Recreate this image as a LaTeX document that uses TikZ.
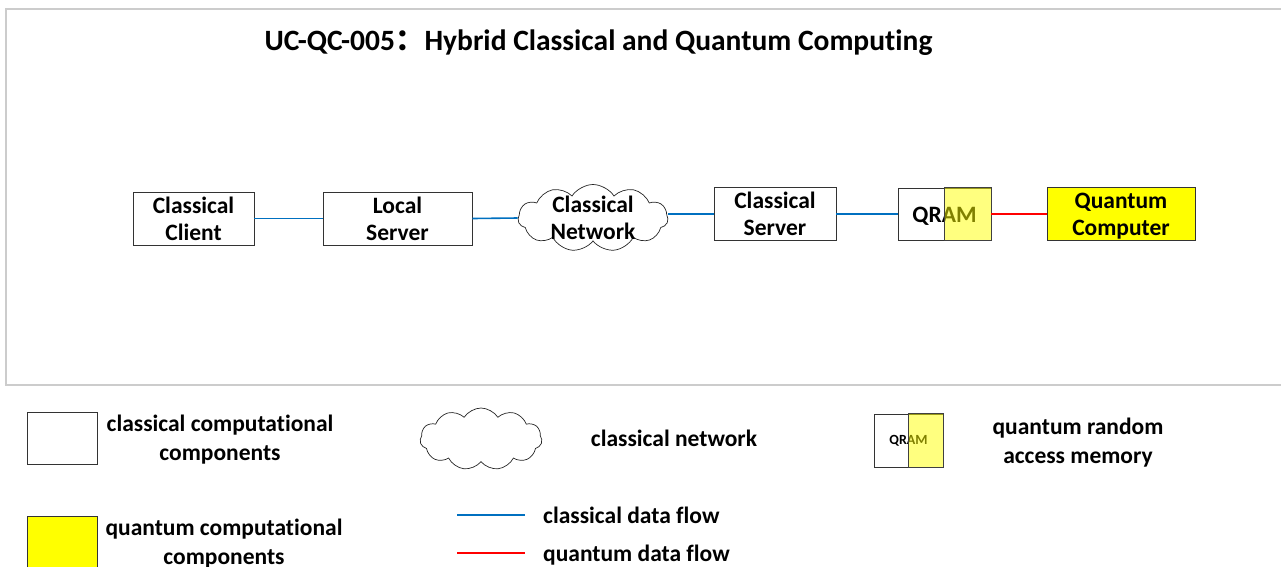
\documentclass[tikz,border=0pt]{standalone}
\usepackage{fontspec}
\setmainfont{Carlito}[Ligatures=NoCommon]
\newfontfamily\cjkfont{Noto Sans CJK SC}
\usetikzlibrary{shapes.symbols}
\definecolor{cblue}{RGB}{0,112,192}
\definecolor{cred}{RGB}{255,0,0}
\definecolor{qyel}{RGB}{255,255,0}
\newcommand\ts{\rule{0pt}{21pt}}
\newcommand\bs{\rule[-5pt]{0pt}{5pt}}
\newcommand\twol[2]{\ts #1\\#2\bs}
\newcommand\onel[1]{\ts #1\bs}
\begin{document}
\begin{tikzpicture}[x=1pt,y=-1pt,
  txt/.style={inner sep=0pt, align=center, font=\bfseries\fontsize{23.5}{27}\selectfont},
  ltxt/.style={inner sep=0pt, align=center, font=\bfseries\fontsize{23.5}{29}\selectfont},
  box/.style={txt, draw=black!80, line width=0.8pt},
  qbox/.style={box, fill=qyel},
  netcloud/.style={cloud, cloud puffs=11, cloud puff arc=115, draw=black!85, line width=0.7pt, inner sep=0pt},
  overlay/.style={fill=qyel, fill opacity=0.5, draw=black!75, line width=0.8pt},
  cflow/.style={cblue, line width=1.6pt},
  qflow/.style={cred, line width=1.6pt}]
\useasboundingbox (0,0) rectangle (1281,566);
\draw[black!20, line width=1.2pt] (6,9) rectangle (1300,385);
% title
\node[inner sep=0pt, font=\bfseries\fontsize{29.5}{32}\selectfont] (title) at (598.5,42.5) {UC-QC-005{\cjkfont ：}Hybrid Classical and Quantum Computing};
% main chain
\node[box, minimum width=121, minimum height=51] (client) at (193.5,218.5) {\twol{Classical}{Client}};
\node[box, minimum width=149, minimum height=51] (local) at (397.5,218.5) {\twol{Local}{Server}};
\node[netcloud, minimum width=150, minimum height=67] (net) at (593,218) {};
\node[txt] (netlabel) at (593,218) {\twol{Classical}{Network}};
\node[box, minimum width=122, minimum height=52] (server) at (775,214) {\twol{Classical}{Server}};
\node[box, minimum width=93, minimum height=52] (qram) at (944.5,214) {\onel{QRAM}};
\draw[overlay] (qram.north) rectangle (qram.south east);
\node[qbox, minimum width=148, minimum height=52] (qc) at (1121,214) {\twol{Quantum}{Computer}};
\draw[cflow] (client.east) -- (local.west);
\draw[cflow] (local.east) -- (net.west);
\draw[cflow] (net.east |- server.west) -- (server.west);
\draw[cflow] (server.east) -- (qram.west);
\draw[qflow] (qram.east) -- (qc.west);
% legend
\node[box, minimum width=70, minimum height=52] (lgclass) at (62,438) {};
\node[ltxt] (lgclasst) at (220,438) {\twol{classical computational}{components}};
\node[netcloud, minimum width=122, minimum height=62] (lgnet) at (481,439) {};
\node[ltxt] (lgnett) at (674,438) {\onel{classical network}};
\node[box, minimum width=69, minimum height=53, font=\bfseries\fontsize{14}{16}\selectfont] (lgqram) at (908.5,440.5) {QRAM};
\draw[overlay] (lgqram.north) rectangle (lgqram.south east);
\node[ltxt] (lgqramt) at (1078,441) {\twol{quantum random}{access memory}};
\node[qbox, minimum width=70, minimum height=52] (lgq) at (62,542) {};
\node[ltxt] (lgqt) at (224,542) {\twol{quantum computational}{components}};
\coordinate (cfa) at (457,515);
\coordinate (cfb) at (525,515);
\draw[cflow] (cfa) -- (cfb);
\node[ltxt, anchor=west] (cft) at (543,515) {\onel{classical data flow}};
\coordinate (qfa) at (457,553);
\coordinate (qfb) at (525,553);
\draw[qflow] (qfa) -- (qfb);
\node[ltxt, anchor=west] (qft) at (543,553) {\onel{quantum data flow}};
\end{tikzpicture}
\end{document}
